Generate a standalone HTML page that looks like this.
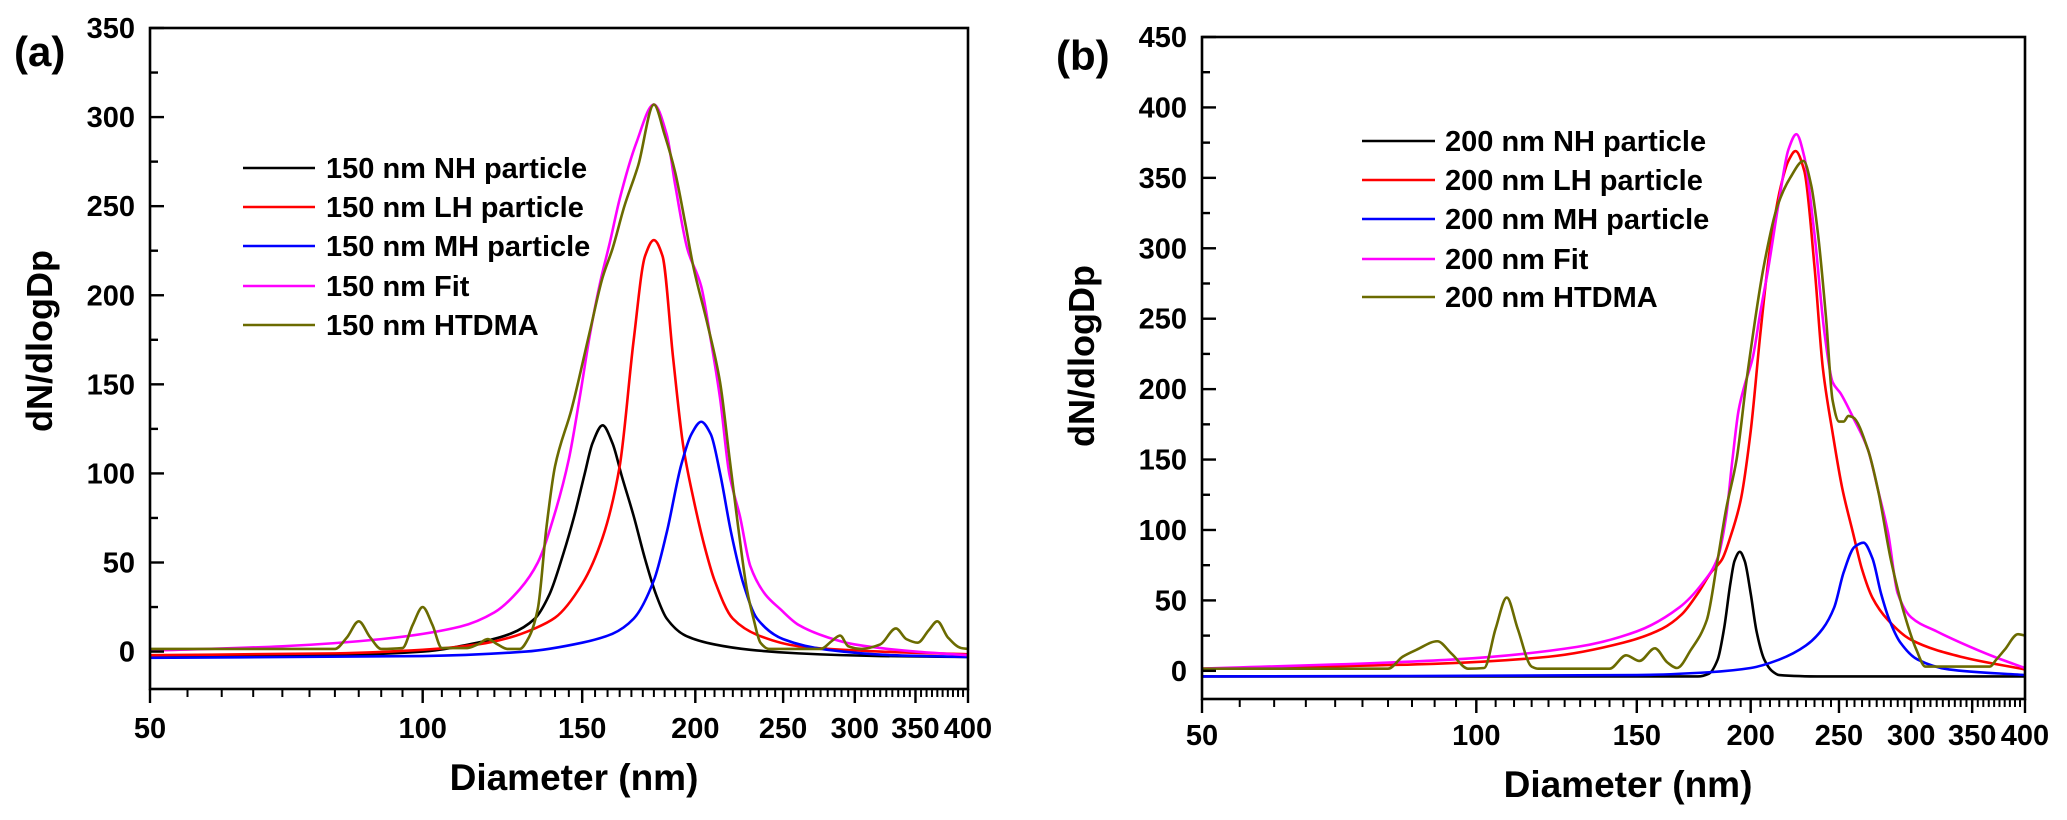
<!DOCTYPE html>
<html><head><meta charset="utf-8"><style>
html,body{margin:0;padding:0;background:#fff;}
svg{display:block;font-family:"Liberation Sans",Arial,sans-serif;font-weight:bold;}
</style></head><body>
<svg id="fig" width="2067" height="820" viewBox="0 0 2067 820" xmlns="http://www.w3.org/2000/svg"></svg>
<script>
// ---------- Data (Diameter nm, dN/dlogDp) ----------
const xTickLabels = [50, 100, 150, 200, 250, 300, 350, 400];
const yTicksA = [0, 50, 100, 150, 200, 250, 300, 350];
const yTicksB = [0, 50, 100, 150, 200, 250, 300, 350, 400, 450];
const seriesNamesA = ["150 nm NH particle", "150 nm LH particle", "150 nm MH particle", "150 nm Fit", "150 nm HTDMA"];
const seriesNamesB = ["200 nm NH particle", "200 nm LH particle", "200 nm MH particle", "200 nm Fit", "200 nm HTDMA"];
const colors = ["#000000", "#ff0000", "#0000ff", "#ff00ff", "#6b6b00"];

const a_NH = [[50,-3],[80,-2],[100,0],[115,5],[125,10],[133,18.5],[138,32],[143,55],[147,76],[151,100],[154,117],[158,127],[162,117],[166,98],[171,76],[176,52],[181,32],[186,18.5],[195,9],[210,4],[230,1],[260,-1],[320,-2.5],[400,-3]];
const a_LH = [[50,-2],[80,-1],[100,1],[115,4],[125,8],[133,13],[140,19],[150,38],[158,64],[165,104],[171,175],[176,222],[180,231],[184,222],[189,165],[194,115],[199,86],[205,58],[210,40],[220,18.5],[235,9],[260,3],[320,0],[400,-1.5]];
const a_MH = [[50,-3.5],[100,-2.5],[130,0],[150,5],[162,10],[171,18.5],[180,40],[186,67],[193,105],[198,122],[203,129],[208,122],[213,100],[219,67],[226,38],[234,18.5],[250,7],[280,1],[330,-2],[400,-3]];
const a_Fit = [[50,0.5],[70,3],[90,7],[110,14],[120,22],[128,35],[134,50],[140,78],[145,108],[149,142],[153,178],[157,207],[161,230],[165,254],[172,285],[180,307],[186,290],[190,262],[196,226],[203,205],[208,175],[213,142],[218,100],[224,76],[230,48],[239,32],[248,24],[260,15],[280,8],[300,4],[350,0],[400,-2]];
const a_HT = [[50,1.5],[80,1.5],[82.5,8],[85,17],[87.5,8],[90,1.5],[95,2],[97.5,15],[100,25],[102.5,15],[105,2],[112,2],[115,4],[118,7],[121,4],[124,1.5],[128,1.5],[131,8],[134,24],[137,70],[140,104],[146,136],[153,180],[158,210],[162,226],[167,250],[173,273],[180,307],[185,290],[190,269],[195,240],[199,216],[206,185],[213,151],[218,110],[223,70],[228,35],[232,18],[236,5],[241,1.5],[275,1.5],[283,6],[289,9],[295,3],[305,1.5],[320,4],[333,13],[342,7],[352,5],[362,12],[370,17],[380,8],[393,2],[400,1.5]];

const b_NH = [[50,-4],[150,-4],[175,-4],[180,-2],[184,8],[187,30],[190,62],[192,78],[194.6,84.5],[197,78],[200,55],[203,28],[207,8],[211,0],[215,-3],[240,-4],[400,-4]];
const b_LH = [[50,1.5],[90,5],[120,10],[145,20],[160,30],[168,40],[175,55],[181,70],[186,79],[190,95],[195,121],[200,170],[205,240],[210,300],[216,345],[220,362],[224,369],[229,355],[235,287],[240,215],[246,169],[252,130],[259,98],[265,72],[272,52],[283,36],[300,22],[340,10],[400,1]];
const b_MH = [[50,-4],[150,-3],[180,-1],[200,2],[215,8],[230,18],[240,30],[247,45],[253,70],[260,88],[266,91],[272,80],[278,55],[284,36],[292,20],[305,8],[330,1],[400,-3]];
const b_Fit = [[50,1.5],[94,8],[129,17],[150,28],[167,45],[177,62],[184,80],[188,110],[191,150],[194,185],[197,203],[201,222],[205,255],[209,285],[215,335],[220,370],[224.5,381],[229,365],[235,310],[241,240],[246,205],[251,197],[259,180],[269,157],[276,128],[283,98],[290,55],[300,38],[320,28],[340,20],[370,10],[400,2]];
const b_HT = [[50,1.5],[80,1.5],[83,10],[86,15],[90.6,21],[94,12],[98,1.5],[102,2],[105,30],[108,52],[111,30],[115,3],[117,1.5],[140,1.5],[146,11],[151,7],[157,16],[162,6],[166,2],[172,15],[179,36],[184,79],[188,115],[193,150],[198,207],[206.7,287],[214,330],[221,350],[228.6,362],[233,345],[237,311],[242,250],[246,192],[250,177],[253,177],[256,181],[259,180],[269,157],[276,128],[285,79],[295,40],[304,15],[311,3],[366,3],[372,8],[380,15],[393,26],[400,25]];

const dataA = [a_NH, a_LH, a_MH, a_Fit, a_HT];
const dataB = [b_NH, b_LH, b_MH, b_Fit, b_HT];

const NS = "http://www.w3.org/2000/svg";
const svg = document.getElementById("fig");
function mk(tag, attrs, parent) {
  const e = document.createElementNS(NS, tag);
  for (const k in attrs) e.setAttribute(k, attrs[k]);
  (parent || svg).appendChild(e);
  return e;
}

function monoPath(pts) {
  const n = pts.length;
  const dx = [], dy = [], m = [];
  for (let i = 0; i < n - 1; i++) { dx.push(pts[i+1][0]-pts[i][0]); dy.push(pts[i+1][1]-pts[i][1]); m.push(dy[i]/dx[i]); }
  const t = [m[0]];
  for (let i = 1; i < n - 1; i++) {
    if (m[i-1]*m[i] <= 0) t.push(0);
    else { const w1 = 2*dx[i]+dx[i-1], w2 = dx[i]+2*dx[i-1]; t.push((w1+w2)/(w1/m[i-1]+w2/m[i])); }
  }
  t.push(m[n-2]);
  let d = "M" + pts[0][0].toFixed(2) + "," + pts[0][1].toFixed(2);
  for (let i = 0; i < n - 1; i++) {
    const h = dx[i];
    d += " C" + (pts[i][0]+h/3).toFixed(2) + "," + (pts[i][1]+t[i]*h/3).toFixed(2) + " " +
      (pts[i+1][0]-h/3).toFixed(2) + "," + (pts[i+1][1]-t[i+1]*h/3).toFixed(2) + " " +
      pts[i+1][0].toFixed(2) + "," + pts[i+1][1].toFixed(2);
  }
  return d;
}

function panel(cfg) {
  const g = mk("g", {});
  
  
  const {L, R, T, B, ymin, ymax} = cfg;
  const xs = v => L + (R - L) * Math.log(v / 50) / Math.log(8);
  const ys = v => B - (B - T) * (v - ymin) / (ymax - ymin);

  cfg.data.forEach((ser, i) => {
    const p = mk("path", {d: monoPath(ser.map(q => [xs(q[0]), ys(q[1])])), fill: "none", stroke: colors[i], "stroke-width": 2.6, "stroke-linejoin": "round"}, g);
    
    
  });

  const fr = mk("rect", {x: L, y: T, width: R - L, height: B - T, fill: "none", stroke: "#000", "stroke-width": 2.6}, g);
  
  

  for (let v = 0; v <= ymax + 0.01; v += 25) {
    const major = (v % 50 === 0);
    mk("line", {x1: L, x2: L + (major ? 14 : 8), y1: ys(v), y2: ys(v), stroke: "#000", "stroke-width": 2.4}, g);
  }
  cfg.yTicks.forEach(v => {
    const t = mk("text", {x: L - 15, y: ys(v) + 10, "text-anchor": "end", "font-size": 29}, g);
    t.textContent = v;
    
    
  });
  for (let v = 55; v < 400; v += 5) {
    const major = xTickLabels.indexOf(v) >= 0;
    mk("line", {x1: xs(v), x2: xs(v), y1: B, y2: B + (major ? 14 : 8), stroke: "#000", "stroke-width": 2}, g);
  }
  xTickLabels.forEach(v => {
    mk("line", {x1: xs(v), x2: xs(v), y1: B, y2: B + 14, stroke: "#000", "stroke-width": 2.4}, g);
    const t = mk("text", {x: xs(v), y: cfg.xLabelY, "text-anchor": "middle", "font-size": 29}, g);
    t.textContent = v;
    
    
  });

  const xt = mk("text", {x: cfg.xTitleX, y: cfg.xTitleY, "text-anchor": "middle", "font-size": 37}, g);
  xt.textContent = "Diameter (nm)";
  
  
  const yt = mk("text", {x: 0, y: 0, "text-anchor": "middle", "font-size": 36, transform: "translate(" + cfg.yTitleX + "," + cfg.yTitleY + ") rotate(-90)"}, g);
  yt.textContent = "dN/dlogDp";
  
  

  const pl = mk("text", {x: cfg.tagX, y: cfg.tagY, "font-size": 42}, g);
  pl.textContent = cfg.tag;
  
  

  const lg = mk("g", {}, g);
  
  
  cfg.names.forEach((nm, i) => {
    const y = cfg.legY[i];
    const e = mk("g", {}, lg);
    
    
    mk("line", {x1: cfg.legX1, x2: cfg.legX2, y1: y, y2: y, stroke: colors[i], "stroke-width": 2.6}, e);
    const t = mk("text", {x: cfg.legTX, y: y + 10, "font-size": 29}, e);
    t.textContent = nm;
  });
}

panel({id: "panel-a", L: 150, R: 968, T: 28, B: 689, ymin: -21, ymax: 350, yTicks: yTicksA, data: dataA, names: seriesNamesA,
  xLabelY: 738, xTitleX: 574, xTitleY: 790, yTitleX: 52, yTitleY: 341, tag: "(a)", tagX: 14, tagY: 66,
  legX1: 243, legX2: 315, legTX: 326, legY: [168, 207, 246, 286, 325]});
panel({id: "panel-b", L: 1202, R: 2025, T: 37, B: 699, ymin: -20, ymax: 450, yTicks: yTicksB, data: dataB, names: seriesNamesB,
  xLabelY: 745, xTitleX: 1628, xTitleY: 797, yTitleX: 1094, yTitleY: 356, tag: "(b)", tagX: 1056, tagY: 70,
  legX1: 1362, legX2: 1435, legTX: 1445, legY: [141, 180, 219, 259, 297]});
</script>
</body></html>
